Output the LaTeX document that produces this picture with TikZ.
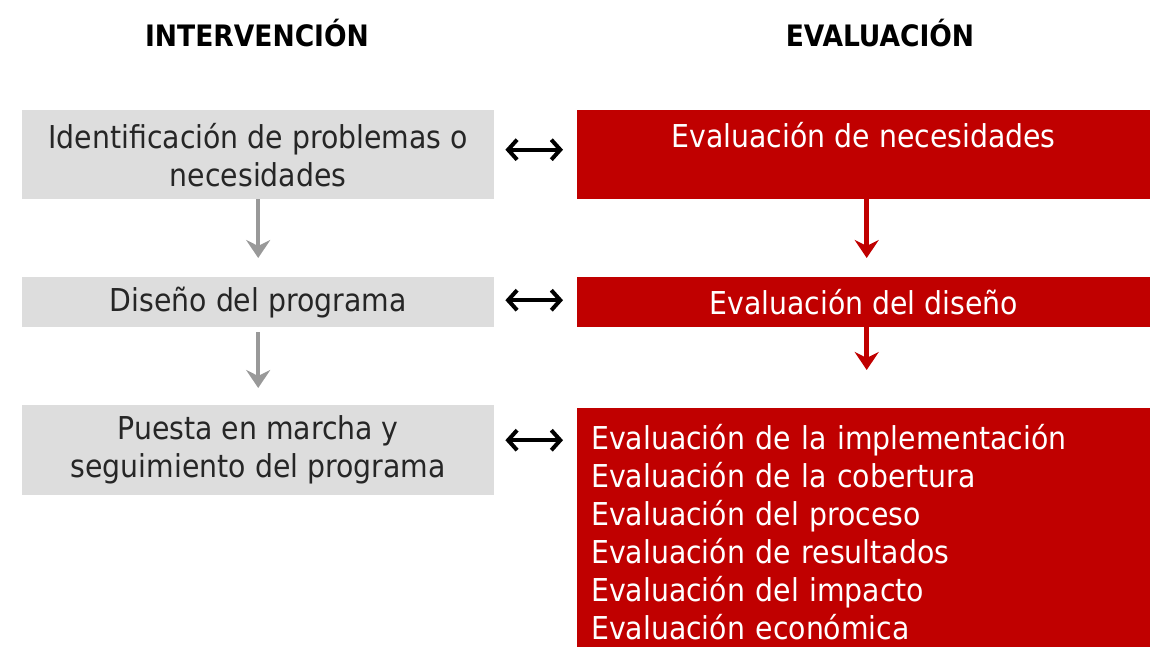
\documentclass[tikz,border=0pt]{standalone}
\usepackage{fontspec}
\setmainfont{DejaVu Sans Condensed}
\usetikzlibrary{arrows.meta}

\definecolor{evred}{HTML}{C00000}
\definecolor{intgray}{HTML}{DDDDDD}
\definecolor{arrgray}{HTML}{999999}

\tikzset{
	txt/.style = {font=\fontsize{31.5}{38}\selectfont},
	intbox/.style = {txt, fill=intgray, text=black!85, align=center,
		minimum width=472pt, inner sep=0pt, anchor=north west},
	evbox/.style = {txt, fill=evred, text=white, align=center,
		minimum width=573pt, inner sep=0pt, anchor=north west},
	grayarrow/.style = {arrgray, line width=4.5pt, -{Stealth[length=18pt,width=24pt,inset=6pt]}},
	redarrow/.style = {evred, line width=4.5pt, -{Stealth[length=18pt,width=24pt,inset=6pt]}},
	dblarrow/.style = {black, line width=4pt, {Straight Barb[length=9pt,width=20pt]}-{Straight Barb[length=9pt,width=20pt]},
		shorten <=11pt, shorten >=14pt},
}

\begin{document}
\begin{tikzpicture}[x=1pt, y=-1pt]
	\useasboundingbox (0,0) rectangle (1150,646);

%column titles
	\node[font=\fontsize{29.5}{38}\bfseries] (intTitle) at (257,33) {INTERVENCIÓN};
	\node[font=\fontsize{29.5}{38}\bfseries] (evTitle) at (880,33) {EVALUACIÓN};

%intervention boxes
	\node[intbox, minimum height=89pt] (identif) at (22,110) {Identificación de problemas o\\necesidades};
	\node[intbox, minimum height=50pt] (diseno) at (22,277) {Diseño del programa};
	\node[intbox, minimum height=90pt] (puesta) at (22,405) {Puesta en marcha y\\seguimiento del programa};

%evaluation boxes
	\node[evbox, minimum height=89pt] (evNec) at (577,110) {Evaluación de necesidades\\[-10pt]\strut};
	\node[evbox, minimum height=50pt] (evDis) at (577,277) {Evaluación del diseño};
	\node[evbox, minimum height=248pt, align=left, text width=545pt] (evImpl) at (577,408)
		{Evaluación de la implementación\\Evaluación de la cobertura\\Evaluación del proceso\\
		 Evaluación de resultados\\Evaluación del impacto\\Evaluación económica};

%arrows down
	\draw[grayarrow, shorten >=19pt] (identif) -- (diseno);
	\draw[grayarrow, shorten <=5pt, shorten >=17pt] (diseno) -- (puesta);
	\draw[redarrow, shorten >=19pt] ([xshift=3pt]evNec.south) -- ([xshift=3pt]evDis.north);
	\draw[redarrow, shorten >=38pt] ([xshift=3pt]evDis.south) -- ([xshift=3pt]evDis.south |- evImpl.north);

%double arrows
	\draw[dblarrow] ([yshift=5pt]identif.east) -- ([yshift=5pt]identif.east -| evNec.west);
	\draw[dblarrow] ([yshift=2pt]diseno.east) -- ([yshift=2pt]diseno.east -| evDis.west);
	\draw[dblarrow] ([yshift=10pt]puesta.east) -- ([yshift=10pt]puesta.east -| evImpl.west);
\end{tikzpicture}
\end{document}
